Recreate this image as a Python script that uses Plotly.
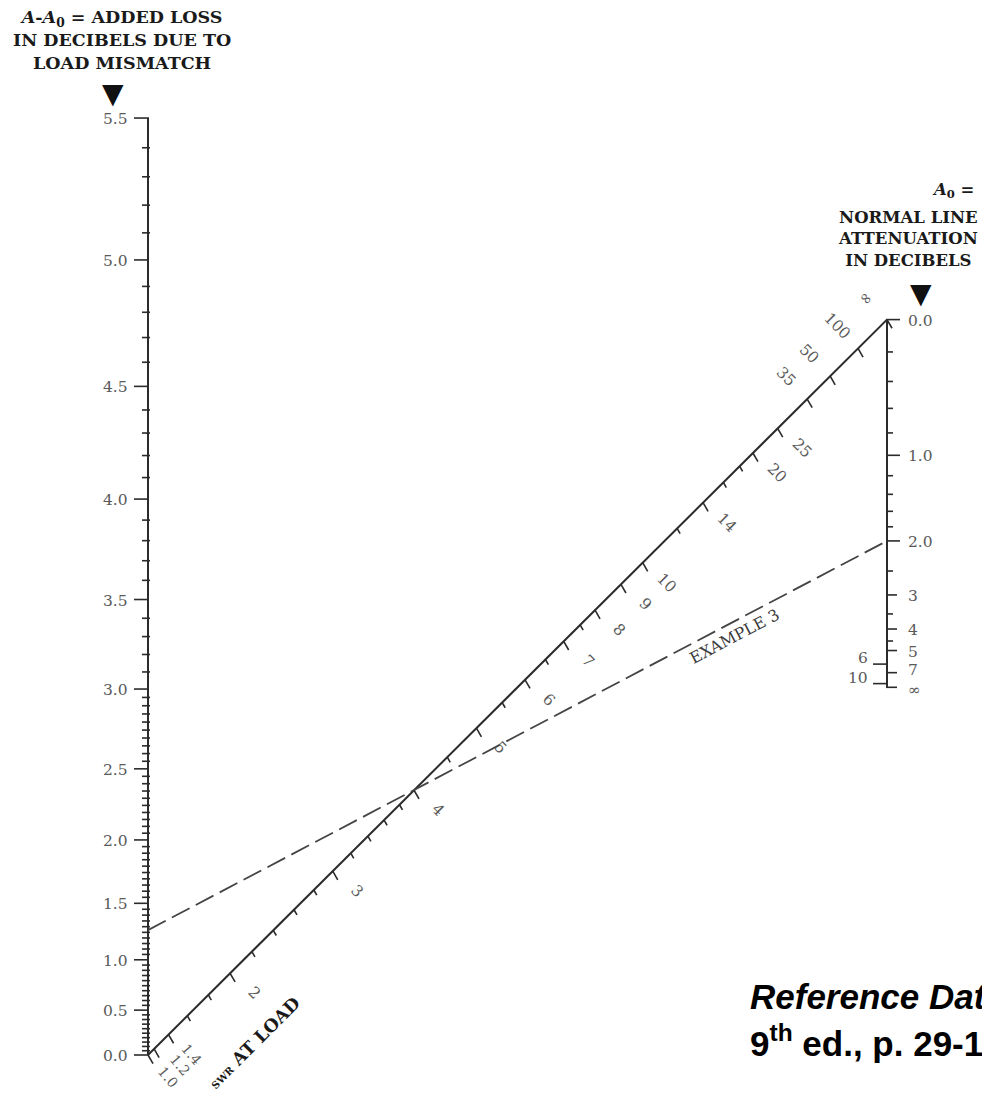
import math
import plotly.graph_objects as go

INF = float("inf")

# ---------------- data ----------------
# Left scale: A - A0, added loss due to load mismatch (dB)
loss_major = [0.0, 0.5, 1.0, 1.5, 2.0, 2.5, 3.0, 3.5, 4.0, 4.5, 5.0, 5.5]
loss_labels = ["0.0", "0.5", "1.0", "1.5", "2.0", "2.5", "3.0", "3.5", "4.0", "4.5", "5.0", "5.5"]
loss_minor_fine = [round(0.05 * k, 2) for k in range(1, 60) if k % 10]      # 0.05 dB graduations below 3.0
loss_minor_coarse = [round(3.0 + 0.1 * k, 1) for k in range(1, 25) if k % 5]  # 0.1 dB graduations above 3.0

# Right scale: A0, normal line attenuation (dB)
atten_major = [0.0, 1.0, 2.0, 3.0, 4.0, 5.0, 6.0, 7.0, 10.0, INF]
atten_labels = ["0.0", "1.0", "2.0", "3", "4", "5", "6", "7", "10", "∞"]
atten_side = ["r", "r", "r", "r", "r", "r", "l", "r", "l", "r"]
atten_minor = [0.2, 0.4, 0.6, 0.8, 1.2, 1.4, 1.6, 1.8, 2.5, 3.5, 4.5]

# Diagonal scale: SWR at load
swr_major = [1.0, 1.2, 1.4, 2, 3, 4, 5, 6, 7, 8, 9, 10, 14, 20, 25, 35, 50, 100, INF]
swr_labels = ["1.0", "1.2", "1.4", "2", "3", "4", "5", "6", "7", "8", "9", "10",
              "14", "20", "25", "35", "50", "100", "∞"]
swr_minor = [1.6, 1.8, 2.2, 2.4, 2.6, 2.8, 3.2, 3.4, 3.6, 3.8, 4.5, 5.5, 6.5, 7.5, 12, 16, 18]

# Example 3
example_atten = 2.0
example_added_loss = 1.27

# ---------------- nomogram scales ----------------
def left_pt(loss_db):
    return 0.0, 10 ** (loss_db / 10.0) - 1.0

def right_pt(a0_db):
    v = 0.0 if a0_db == INF else 10 ** (-a0_db / 5.0)
    return 1.0, 1.0 + v

def diag_pt(swr):
    g = 1.0 if swr == INF else ((swr - 1.0) / (swr + 1.0)) ** 2
    return g, 2.0 * g

# ---------------- geometry / layout ----------------
PAGE_OFF = 8
FIG_W, FIG_H = 990 - 2 * PAGE_OFF, 1099 - 2 * PAGE_OFF
PX_X = 739.0
PX_Y = 367.7
ORIG_X = 148 - PAGE_OFF
ORIG_Y = 1055 - PAGE_OFF
x_range = [-ORIG_X / PX_X, (FIG_W - ORIG_X) / PX_X]
y_range = [-(FIG_H - ORIG_Y) / PX_Y, ORIG_Y / PX_Y]

def dx(p):
    return p / PX_X

def dy(p):
    return p / PX_Y

LINE_C = "#2b2b2b"
LABEL_C = "#5a5a5a"
SERIF = "DejaVu Serif"

axis_x, axis_y = [], []
tick_x, tick_y = [], []

def seg(xs, ys, a, b):
    xs += [a[0], b[0], None]
    ys += [a[1], b[1], None]

# axis lines
seg(axis_x, axis_y, left_pt(loss_major[0]), left_pt(loss_major[-1]))
seg(axis_x, axis_y, right_pt(atten_major[0]), right_pt(atten_major[-1]))
seg(axis_x, axis_y, diag_pt(swr_major[0]), diag_pt(swr_major[-1]))

annotations = []

def ann(x, y, text, xs=0, ys=0, size=15, color=LABEL_C, angle=0, xanchor="center",
        family=SERIF, bold=False):
    font = dict(family=family, size=size, color=color)
    if bold:
        font["weight"] = "bold"
    annotations.append(dict(x=x, y=y, xref="x", yref="y", text=text, showarrow=False,
                            xshift=xs, yshift=ys, textangle=angle, xanchor=xanchor,
                            yanchor="middle", font=font))

# left scale ticks + labels
for v, lab in zip(loss_major, loss_labels):
    x, y = left_pt(v)
    seg(tick_x, tick_y, (x - dx(14), y), (x + dx(1), y))
    ann(x, y, lab, xs=-18, ys=-1, xanchor="right", size=15.5)
for v in loss_minor_fine + loss_minor_coarse:
    x, y = left_pt(v)
    seg(tick_x, tick_y, (x - dx(6), y), (x + dx(2), y))

# right scale ticks + labels
right_label_dy = {"7": 4, "∞": -2}
for v, lab, side in zip(atten_major, atten_labels, atten_side):
    x, y = right_pt(v)
    if side == "r":
        ln = 13 if lab in ("0.0", "1.0", "2.0") else 10
        seg(tick_x, tick_y, (x - dx(1), y), (x + dx(ln), y))
        ann(x, y, lab, xs=19, ys=-1 + right_label_dy.get(lab, 0), xanchor="left", size=15.5)
    else:
        seg(tick_x, tick_y, (x - dx(14), y), (x + dx(1), y))
        ann(x, y, lab, xs=-17, ys=6, xanchor="right", size=15.5)
for v in atten_minor:
    x, y = right_pt(v)
    seg(tick_x, tick_y, (x - dx(1), y), (x + dx(6), y))

# diagonal scale ticks + labels
TDX, TDY = 0.5, 0.866
for v, lab in zip(swr_major, swr_labels):
    x, y = diag_pt(v)
    seg(tick_x, tick_y, (x, y), (x + dx(10 * TDX), y - dy(10 * TDY)))
    if v in (35, 50, 100, INF):
        ann(x, y, lab, xs=-21, ys=22, angle=45, size=15.5)
    elif v in (1.0, 1.2, 1.4):
        nudge = {1.0: -3, 1.2: 3, 1.4: 0}[v]
        ann(x, y, lab, xs=23 + nudge, ys=-19 + nudge, angle=50, size=14)
    else:
        ann(x, y, lab, xs=24, ys=-20, angle=45, size=15.5)
for v in swr_minor:
    x, y = diag_pt(v)
    seg(tick_x, tick_y, (x, y), (x + dx(6 * TDX), y - dy(6 * TDY)))

# example line
ex_a = left_pt(example_added_loss)
ex_b = right_pt(example_atten)

fig = go.Figure()
fig.add_trace(go.Scatter(x=axis_x, y=axis_y, mode="lines",
                         line=dict(color=LINE_C, width=2), hoverinfo="skip", showlegend=False))
fig.add_trace(go.Scatter(x=tick_x, y=tick_y, mode="lines",
                         line=dict(color=LINE_C, width=1.6), hoverinfo="skip", showlegend=False))
fig.add_trace(go.Scatter(x=[ex_a[0], ex_b[0]], y=[ex_a[1], ex_b[1]], mode="lines",
                         line=dict(color="#444444", width=1.8, dash="20px,7px"),
                         hoverinfo="skip", showlegend=False))

# EXAMPLE 3 label along dashed line
t = 0.785
ex_x = ex_a[0] + t * (ex_b[0] - ex_a[0])
ex_y = ex_a[1] + t * (ex_b[1] - ex_a[1])
ang = math.atan2((ex_b[1] - ex_a[1]) * PX_Y, (ex_b[0] - ex_a[0]) * PX_X)
off = 13
ann(ex_x, ex_y, "EXAMPLE 3", xs=off * math.sin(ang), ys=-off * math.cos(ang),
    size=16, angle=-math.degrees(ang), color="#3a3a3a")

# SWR AT LOAD
ox, oy = diag_pt(swr_major[0])
ann(ox, oy, "<span style='font-size:10px'>SWR</span> AT LOAD", xs=106, ys=12, size=17.5,
    angle=-45, color="#1a1a1a", bold=True)

# titles and arrows
tx, ty = left_pt(loss_major[-1])
ann(tx, ty, "<i>A</i>-<i>A</i><sub>0</sub> = ADDED LOSS<br>IN DECIBELS DUE TO<br>LOAD MISMATCH",
    xs=-26, ys=78, size=17.5, color="#1a1a1a", bold=True)
ann(tx, ty, "▼", xs=-35, ys=25, size=28, color="#111111", family="DejaVu Sans")

rx, ry = right_pt(atten_major[0])
ann(rx, ry, "<i>A</i><sub>0</sub> =", xs=66, ys=129, size=16.5, color="#1a1a1a", bold=True)
ann(rx, ry, "NORMAL LINE<br>ATTENUATION<br>IN DECIBELS",
    xs=21, ys=81, size=16.5, color="#1a1a1a", bold=True)
ann(rx, ry, "▼", xs=34, ys=26, size=28, color="#111111", family="DejaVu Sans")

# reference note (bottom right)
annotations.append(dict(x=(748 - PAGE_OFF) / FIG_W, y=(FIG_H - (997 - PAGE_OFF)) / FIG_H,
                        xref="paper", yref="paper", xanchor="left", yanchor="middle",
                        showarrow=False, text="<b><i>Reference Data for Engineers,</i></b>",
                        font=dict(family="Liberation Sans", size=35, color="#000000")))
annotations.append(dict(x=(748 - PAGE_OFF) / FIG_W, y=(FIG_H - (1041 - PAGE_OFF)) / FIG_H,
                        xref="paper", yref="paper", xanchor="left", yanchor="middle",
                        showarrow=False, text="<b>9<sup>th</sup> ed., p. 29-14</b>",
                        font=dict(family="Liberation Sans", size=35, color="#000000")))

fig.update_layout(
    width=FIG_W, height=FIG_H,
    margin=dict(l=0, r=0, t=0, b=0),
    paper_bgcolor="white", plot_bgcolor="white",
    xaxis=dict(range=x_range, visible=False, fixedrange=True),
    yaxis=dict(range=y_range, visible=False, fixedrange=True),
    annotations=annotations,
    showlegend=False,
)

fig.write_html("out.html")
